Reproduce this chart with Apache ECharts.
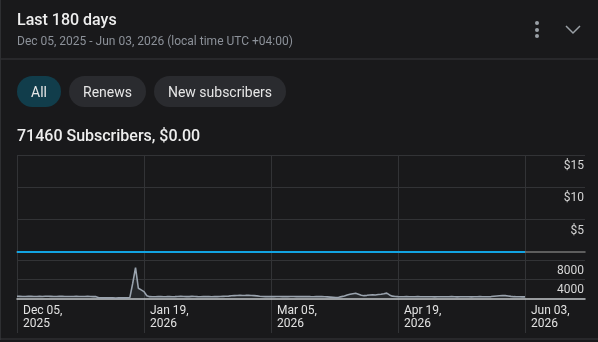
<!DOCTYPE html>
<html><head><meta charset="utf-8">
<script src="https://cdn.jsdelivr.net/npm/echarts@6/dist/echarts.min.js"></script>
<style>html,body{margin:0;padding:0;background:#19191b;}#c{width:598px;height:342px;}</style>
</head><body><div id="c"></div>
<script>
// ---- data ----
const titleText = 'Last 180 days';
const subtitleText = 'Dec 05, 2025 - Jun 03, 2026 (local time UTC +04:00)';
const summaryText = '71460 Subscribers, $0.00';
const filterButtons = ['All', 'Renews', 'New subscribers'];
const xTickLabels = ['Dec 05,\n2025', 'Jan 19,\n2026', 'Mar 05,\n2026', 'Apr 19,\n2026', 'Jun 03,\n2026'];
const dayTickStep = 45;
const revenueTicks = { min: 0, max: 15, step: 5 };
const subscriberTicks = { min: 0, max: 8000, step: 4000 };
// daily revenue ($), Dec 05 2025 .. Jun 03 2026
const revenue = [
0,0,0,0,0,0,0,0,0,0, 0,0,0,0,0,0,0,0,0,0, 0,0,0,0,0,0,0,0,0,0,
0,0,0,0,0,0,0,0,0,0, 0,0,0,0,0,0,0,0,0,0, 0,0,0,0,0,0,0,0,0,0,
0,0,0,0,0,0,0,0,0,0, 0,0,0,0,0,0,0,0,0,0, 0,0,0,0,0,0,0,0,0,0,
0,0,0,0,0,0,0,0,0,0, 0,0,0,0,0,0,0,0,0,0, 0,0,0,0,0,0,0,0,0,0,
0,0,0,0,0,0,0,0,0,0, 0,0,0,0,0,0,0,0,0,0, 0,0,0,0,0,0,0,0,0,0,
0,0,0,0,0,0,0,0,0,0, 0,0,0,0,0,0,0,0,0,0, 0,0,0,0,0,0,0,0,0,0,
0
];
// daily subscribers, Dec 05 2025 .. Jun 03 2026
const subscribers = [
420,400,380,390,410,400,370,380,400,390,
420,430,410,390,380,400,410,390,370,380,
390,400,380,370,390,400,380,360,340,
120,90,80,80,90,80,70,80,90,80,100,
180,3100,6400,2100,1750,1400,520,340,
330,320,340,350,330,340,360,330,340,380,
420,380,340,350,400,380,340,330,360,350,
340,330,350,360,380,400,420,450,
520,560,600,620,600,610,630,600,560,500,420,
380,360,350,340,360,380,370,350,340,360,380,370,350,
340,350,370,360,340,330,350,360,340,320,300,250,200,
150,200,350,500,700,850,950,1050,850,650,550,620,700,740,700,780,860,960,1080,700,450,
380,340,320,330,340,320,310,330,340,320,310,320,330,310,300,320,
330,320,310,330,340,320,300,310,330,320,310,300,320,330,340,320,
310,330,360,420,480,540,600,560,480,400,340,320,310,300,290
];

// ---- layout ----
const plotLeft = 17, plotRight = 585, dataRight = 525;
const lastDay = revenue.length - 1;
const axisMaxDay = lastDay * (plotRight - plotLeft) / (dataRight - plotLeft);
const gridLineColor = '#323336';
const font = 'Roboto, "Noto Sans", sans-serif';

const chart = echarts.init(document.getElementById('c'), null, { renderer: 'canvas' });

const xBase = {
  type: 'value', min: 0, max: axisMaxDay, interval: dayTickStep,
  axisTick: { show: false }, axisLabel: { show: false }, splitLine: { show: false }
};

function txt(x, y, text, fill, f, align) {
  return { type: 'text', x: x, y: y, z: 11,
    style: { text: text, fill: fill, font: f, align: align || 'left', verticalAlign: 'middle' } };
}

const pills = [];
const pillDefs = [[17, 44, '#113d4b'], [69, 77, '#2a2b2f'], [154, 132, '#2a2b2f']];
filterButtons.forEach((t, i) => {
  const [x, w, c] = pillDefs[i];
  pills.push({ type: 'rect', shape: { x: x, y: 76, width: w, height: 31, r: 15.5 }, style: { fill: c }, z: 10 });
  pills.push(txt(x + w / 2, 93.5, t, '#e6e6e6', '14px ' + font, 'center'));
});

chart.setOption({
  backgroundColor: '#19191b',
  animation: false,
  grid: [
    { left: plotLeft, right: 598 - plotRight, top: 155, height: 97 },
    { left: plotLeft, right: 598 - plotRight, top: 260, height: 38.3 },
    { left: plotLeft, right: 598 - plotRight, top: 155, height: 178 }
  ],
  xAxis: [
    Object.assign({}, xBase, { gridIndex: 0, axisLine: { show: true, lineStyle: { color: '#767676', width: 1.5 } } }),
    Object.assign({}, xBase, {
      gridIndex: 1,
      axisLine: { show: true, lineStyle: { color: '#c4c7cc', width: 1.5 } },
      axisLabel: {
        show: true, align: 'left', margin: 6, padding: [0, 0, 0, 6],
        color: '#e2e2e2', fontSize: 12, fontFamily: font, lineHeight: 13,
        showMaxLabel: false,
        formatter: v => { const k = Math.round(v / dayTickStep); return Math.abs(v - k * dayTickStep) < 1e-6 && xTickLabels[k] ? xTickLabels[k] : ''; }
      }
    }),
    Object.assign({}, xBase, {
      gridIndex: 2, axisLine: { show: false },
      splitLine: { show: true, showMinLine: true, showMaxLine: false, lineStyle: { color: gridLineColor, width: 1 } }
    })
  ],
  yAxis: [
    {
      gridIndex: 0, type: 'value', position: 'right',
      min: revenueTicks.min, max: revenueTicks.max, interval: revenueTicks.step,
      axisLine: { show: false }, axisTick: { show: false },
      splitLine: { show: true, showMinLine: false, lineStyle: { color: gridLineColor } },
      axisLabel: {
        inside: true, margin: 1, showMinLabel: false, verticalAlign: 'top', padding: [5, 0, 0, 0],
        color: '#d6d6d6', fontSize: 12, fontFamily: font, lineHeight: 12,
        formatter: v => '$' + v
      }
    },
    {
      gridIndex: 1, type: 'value', position: 'right',
      min: subscriberTicks.min, max: subscriberTicks.max, interval: subscriberTicks.step,
      axisLine: { show: false }, axisTick: { show: false },
      splitLine: { show: true, showMinLine: false, lineStyle: { color: gridLineColor } },
      axisLabel: {
        inside: true, margin: 1, showMinLabel: false, verticalAlign: 'top', padding: [5, 0, 0, 0],
        color: '#d6d6d6', fontSize: 12, fontFamily: font, lineHeight: 12,
        formatter: v => String(v)
      }
    },
    { gridIndex: 2, type: 'value', show: false, splitLine: { show: false } }
  ],
  series: [
    {
      type: 'line', xAxisIndex: 0, yAxisIndex: 0, symbol: 'none', silent: true,
      data: revenue.map((v, i) => [i, v]),
      lineStyle: { color: '#12a3e2', width: 2 }, z: 5
    },
    {
      type: 'line', xAxisIndex: 1, yAxisIndex: 1, symbol: 'none', silent: true,
      data: subscribers.map((v, i) => [i, v]),
      lineStyle: { color: '#9aa3ae', width: 1.6 },
      areaStyle: { color: 'rgba(130,140,155,0.18)' }, z: 5
    }
  ],
  graphic: [
    txt(17, 21, titleText, '#eeeeee', '500 16px ' + font),
    txt(17, 42, subtitleText, '#8c9199', '12px ' + font),
    { type: 'rect', shape: { x: 0, y: 58.5, width: 598, height: 1 }, style: { fill: '#38393c' } },
    { type: 'circle', shape: { cx: 537, cy: 23, r: 2 }, style: { fill: '#9aa0a6' } },
    { type: 'circle', shape: { cx: 537, cy: 30, r: 2 }, style: { fill: '#9aa0a6' } },
    { type: 'circle', shape: { cx: 537, cy: 36, r: 2 }, style: { fill: '#9aa0a6' } },
    { type: 'polyline', shape: { points: [[566, 26], [573, 33], [580, 26]] }, style: { stroke: '#9aa0a6', lineWidth: 1.5, fill: null } },
    ...pills,
    txt(17, 137, summaryText, '#eeeeee', '500 16px ' + font),
    { type: 'rect', shape: { x: 0, y: 0, width: 1, height: 340 }, style: { fill: '#2e2f32' } },
    { type: 'rect', shape: { x: 0, y: 338.5, width: 598, height: 1 }, style: { fill: '#38393c' } }
  ]
});
</script>
</body></html>
